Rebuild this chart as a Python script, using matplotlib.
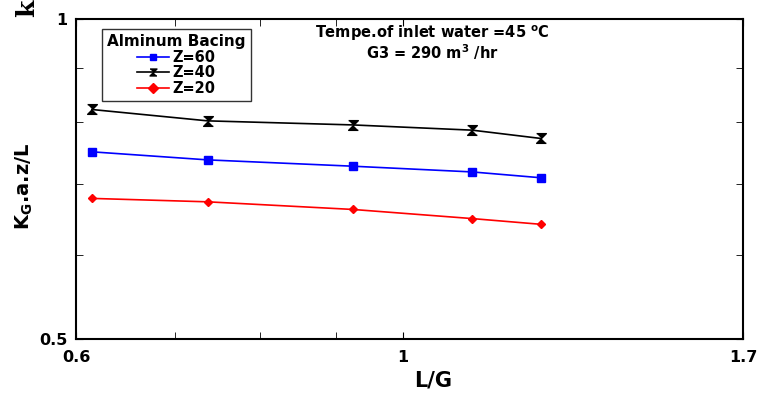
from matplotlib import pyplot as plt
from matplotlib.ticker import FixedLocator, NullFormatter

plt.rcParams['font.family'] = ['DejaVu Sans']
plt.rcParams['font.weight'] = 'bold'
plt.rcParams['mathtext.fontset'] = 'dejavusans'

# data
lg = [0.615, 0.737, 0.924, 1.114, 1.24]
z60 = [0.750, 0.737, 0.727, 0.718, 0.709]
z40 = [0.822, 0.802, 0.795, 0.786, 0.772]
z20 = [0.678, 0.673, 0.662, 0.649, 0.641]

x_ticks = [0.6, 1, 1.7]
x_minor = [0.7, 0.8, 0.9]
y_ticks = [0.5, 1]
y_minor = [0.6, 0.7, 0.8, 0.9]

hourglass = [(-1, 1), (1, 1), (-1, -1), (1, -1)]

fig = plt.figure(figsize=(7.6, 3.94), dpi=100)
ax = fig.add_axes([76 / 760, 1 - 339 / 394, 667 / 760, 320 / 394])

ax.plot(lg, z60, color='blue', marker='s', markersize=6, lw=1.2, label='Z=60')
ax.plot(lg, z40, color='black', marker=hourglass, markersize=7, lw=1.2, label='Z=40')
ax.plot(lg, z20, color='red', marker='D', markersize=4.5, lw=1.2, label='Z=20')

ax.set_xscale('log')
ax.set_yscale('log')
ax.set_xlim(0.6, 1.7)
ax.set_ylim(0.5, 1)

ax.xaxis.set_major_locator(FixedLocator(x_ticks))
ax.xaxis.set_minor_locator(FixedLocator(x_minor))
ax.yaxis.set_major_locator(FixedLocator(y_ticks))
ax.yaxis.set_minor_locator(FixedLocator(y_minor))
ax.set_xticklabels([str(v) for v in x_ticks])
ax.set_yticklabels([str(v) for v in y_ticks])
ax.xaxis.set_minor_formatter(NullFormatter())
ax.yaxis.set_minor_formatter(NullFormatter())
ax.tick_params(which='both', direction='in', top=True, right=True, labelsize=11.5)
ax.tick_params(axis='x', which='major', pad=8)
ax.tick_params(axis='y', which='major', pad=6)
ax.tick_params(which='both', length=5)
for s in ax.spines.values():
    s.set_linewidth(1.5)

fig.text(433 / 760, 1 - 380 / 394, 'L/G', fontsize=15, fontweight='bold',
         ha='center', va='center')
fig.text(24 / 760, 1 - 186 / 394, r'K$_{\mathbf{G}}$.a.z/L', fontsize=14, fontweight='bold',
         rotation=90, ha='center', va='center')

leg = ax.legend(title='Alminum Bacing', loc='upper left', bbox_to_anchor=(0.039, 0.969),
                fontsize=10.5, title_fontsize=11, frameon=True, fancybox=False,
                edgecolor='black', handlelength=2.2, handletextpad=0.2,
                borderpad=0.35, labelspacing=0.05, borderaxespad=0)
leg.get_title().set_fontweight('bold')
leg.get_frame().set_linewidth(1.0)
for h in leg.legend_handles:
    h.set_markersize(5)

ax.text(0.534, 0.956, r'Tempe.of inlet water =45 $^{\mathbf{o}}$C', transform=ax.transAxes,
        ha='center', va='center', fontsize=10.5, fontweight='bold')
ax.text(0.534, 0.897, r'G3 = 290 m$^{\mathbf{3}}$ /hr', transform=ax.transAxes,
        ha='center', va='center', fontsize=10.5, fontweight='bold')

fig.text(27 / 760, 1 - 8 / 394, 'k', family='DejaVu Serif', fontweight='bold',
         fontsize=18, rotation=90, ha='center', va='center')

fig.savefig('out.png', dpi=100)
